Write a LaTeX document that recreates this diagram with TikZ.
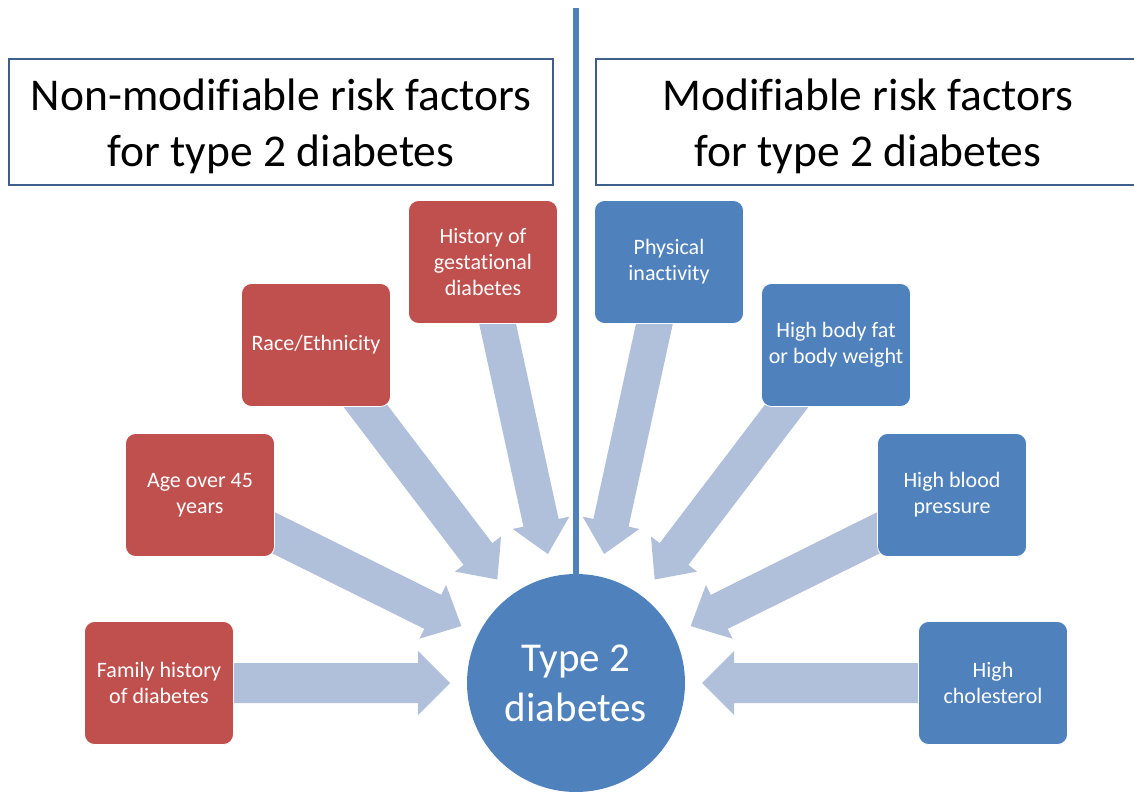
\documentclass[tikz,border=0pt]{standalone}
\usepackage{fontspec}
\setmainfont{Carlito}[Ligatures=NoCommon]
\usetikzlibrary{calc,backgrounds}
\definecolor{boxred}{RGB}{192,80,77}
\definecolor{boxblue}{RGB}{79,129,189}
\definecolor{arrowfill}{RGB}{176,192,218}
\definecolor{titleline}{RGB}{60,95,140}
% #1 tail, #2 tip, #3 half shaft width, #4 half head width
\newcommand{\fatarrow}[4]{%
  \path ($(#2)!32pt!(#1)$) coordinate (neck);
  \fill[fat] ($(#1)!#3!90:(#2)$) -- ($(neck)!#3!90:(#2)$) -- ($(neck)!#4!90:(#2)$) -- (#2)
    -- ($(neck)!#4!-90:(#2)$) -- ($(neck)!#3!-90:(#2)$) -- ($(#1)!#3!-90:(#2)$) -- cycle;
}
\begin{document}
\begin{tikzpicture}[x=1pt,y=-1pt,
  factor/.style={rectangle, rounded corners=10pt, draw=white, line width=0.8pt,
    minimum width=149pt, minimum height=123pt, text=white, align=center,
    font=\fontsize{22}{26}\selectfont, inner sep=2pt},
  redbox/.style={factor, fill=boxred},
  bluebox/.style={factor, fill=boxblue},
  titlebox/.style={rectangle, draw=titleline, line width=1.2pt, fill=white,
    minimum width=544pt, minimum height=126pt, inner sep=0pt},
  titletext/.style={align=center, font=\fontsize{45.5}{56}\selectfont, inner sep=0pt},
  fat/.style={fill=arrowfill}
]
\useasboundingbox (0,0) rectangle (1134,794);

% title boxes
\node[titlebox, label={[titletext, yshift=-4pt]center:Non-modifiable risk factors\\for type 2 diabetes}] (tl) at (281,122) {};
\node[titlebox, label={[titletext, yshift=-4pt]center:Modifiable risk factors\\for type 2 diabetes}] (tr) at (868,122) {};

% central circle
\node[circle, fill=boxblue, minimum size=218pt, inner sep=0pt, text=white, align=center,
  font=\fontsize{41}{50}\selectfont] (dia) at (576,683) {Type 2\\diabetes};

% divider
\coordinate (top) at (576,8);
\draw[boxblue, line width=6pt] (top) -- (dia.north);

% factor boxes
\node[redbox] (fam) at (159,683) {Family history\\of diabetes};
\node[redbox] (age) at (200,495) {Age over 45\\years};
\node[redbox] (race) at (316,345) {Race/Ethnicity};
\node[redbox] (gest) at (483,262) {History of\\gestational\\diabetes};
\node[bluebox] (phys) at (669,262) {Physical\\inactivity};
\node[bluebox] (fat) at (836,345) {High body fat\\or body weight};
\node[bluebox] (bp) at (952,495) {High blood\\pressure};
\node[bluebox] (chol) at (993,683) {High\\cholesterol};

% tails
\coordinate (t1) at ($(fam.east)+(-10,0)$);
\coordinate (t2) at ($(age.east)+(-13,32)$);
\coordinate (t3) at ($(race.south)+(38,-16)$);
\coordinate (t4) at ($(gest.south)+(12,-12)$);
\coordinate (t5) at ($(phys.south)+(-12,-12)$);
\coordinate (t6) at ($(fat.south)+(-38,-16)$);
\coordinate (t7) at ($(bp.west)+(13,32)$);
\coordinate (t8) at ($(chol.west)+(10,0)$);
% tips
\coordinate (h1) at ($(dia.center)!126pt!(t1)$);
\coordinate (h2) at ($(dia.center)!128pt!(t2)$);
\coordinate (h3) at ($(dia.center)!130pt!(t3)$);
\coordinate (h4) at ($(dia.center)!132pt!(t4)$);
\coordinate (h5) at ($(dia.center)!132pt!(t5)$);
\coordinate (h6) at ($(dia.center)!130pt!(t6)$);
\coordinate (h7) at ($(dia.center)!128pt!(t7)$);
\coordinate (h8) at ($(dia.center)!126pt!(t8)$);

\begin{pgfonlayer}{background}
\fatarrow{t1}{h1}{20pt}{32pt}
\fatarrow{t2}{h2}{19pt}{30pt}
\fatarrow{t3}{h3}{18pt}{29pt}
\fatarrow{t4}{h4}{18pt}{29pt}
\fatarrow{t5}{h5}{18pt}{29pt}
\fatarrow{t6}{h6}{18pt}{29pt}
\fatarrow{t7}{h7}{19pt}{30pt}
\fatarrow{t8}{h8}{20pt}{32pt}
\end{pgfonlayer}
\end{tikzpicture}
\end{document}
